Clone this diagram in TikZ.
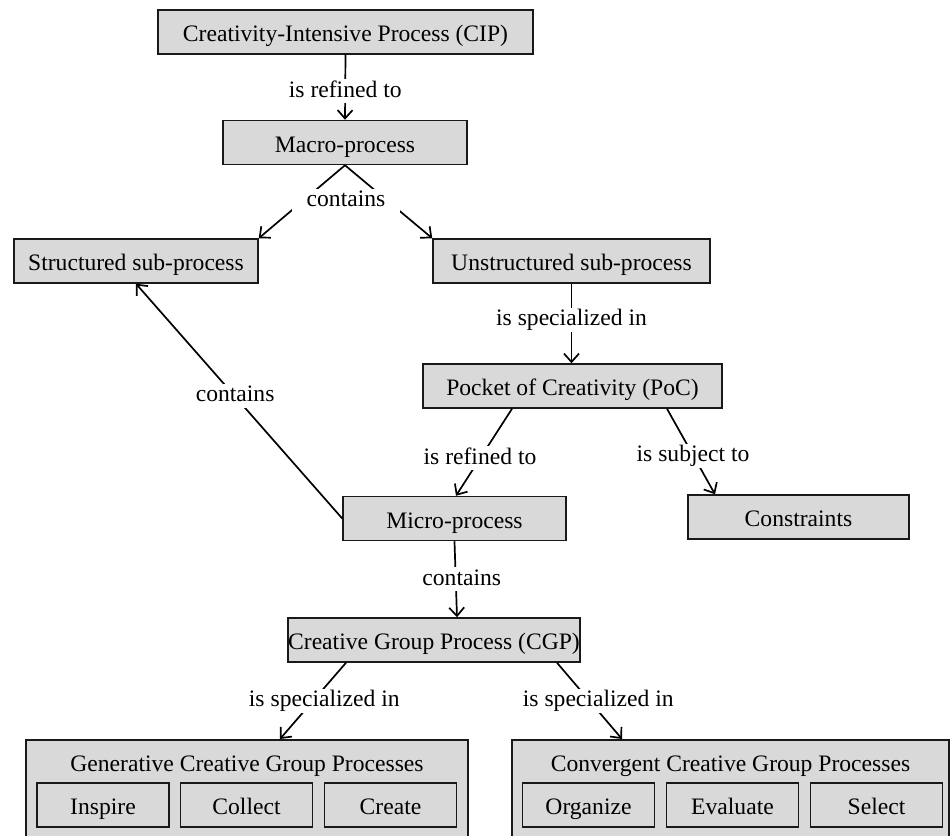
\documentclass[tikz,border=0pt]{standalone}
\usepackage{fontspec}
\setmainfont{Liberation Serif}
\usetikzlibrary{arrows.meta}
\begin{document}
\begin{tikzpicture}[x=0.5pt,y=-0.5pt,
  font=\fontsize{11.8}{14}\selectfont,
  boxtxt/.style={text height=10pt, text depth=0.5pt},
  box/.style={boxtxt, draw=black!90, fill=black!15, line width=0.75pt, inner sep=0pt,
    minimum height=22pt},
  sub/.style={box, minimum width=66pt},
  rel/.style={draw=black, line width=0.85pt,
    -{Straight Barb[length=4.2pt,width=7.5pt,line width=0.85pt]}},
  lbl/.style={text height=8.4pt, text depth=2.6pt, fill=white,
    inner xsep=2.5pt, inner ysep=0.5pt, text=black}]
\useasboundingbox (0,0) rectangle (950,836);

% upper part of the hierarchy
\node[box, minimum width=187.5pt] (cip) at (345.5,32) {Creativity-Intensive Process (CIP)};
\node[box, minimum width=122pt] (macro) at (345,142.5) {Macro-process};
\node[box, minimum width=122pt] (struct) at (136,261) {Structured sub-process};
\node[box, minimum width=138.5pt] (unstruct) at (571.5,261) {Unstructured sub-process};
\node[box, minimum width=149.5pt] (poc) at (572.5,386) {Pocket of Creativity (PoC)};
\node[box, minimum width=111.5pt] (micro) at (454.5,518.5) {Micro-process};
\node[box, minimum width=110.5pt] (constr) at (798.5,517) {Constraints};
\node[box, minimum width=143pt] (cgp) at (434,640) {Creative Group Process (CGP)};

% group-process families with their activities
\node[box, minimum width=221pt, minimum height=60pt, anchor=north] (gen) at (247,739) {};
\node[boxtxt] (gentitle) at (247,762) {Generative Creative Group Processes};
\node[sub] (inspire) at (103,805) {Inspire};
\node[sub] (collect) at (246.5,805) {Collect};
\node[sub] (create) at (390.5,805) {Create};

\node[box, minimum width=218.5pt, minimum height=60pt, anchor=north] (conv) at (730.5,739) {};
\node[boxtxt] (convtitle) at (730.5,762) {Convergent Creative Group Processes};
\node[sub] (organize) at (588.5,805) {Organize};
\node[sub] (evaluate) at (732.5,805) {Evaluate};
\node[sub] (select) at (876.5,805) {Select};

% relations
\draw[rel] (cip.south) -- node[lbl, yshift=-2pt] {is refined to} (macro.north);
\draw[rel] (macro.south) -- (struct.north east);
\draw[rel] (macro.south) -- (unstruct.north west);
\node[lbl, inner xsep=7.5pt] (containsA) at (346,201) {contains};
\draw[rel] (unstruct.south) -- node[lbl, yshift=2pt] {is specialized in} (unstruct.south |- poc.north);
\draw[rel] ([xshift=-30.25pt]poc.south) -- node[lbl, xshift=-2pt, yshift=-3pt] {is refined to} ([xshift=0.75pt]micro.north);
\draw[rel] ([xshift=47.25pt]poc.south) -- node[lbl, xshift=1pt, yshift=-2pt] {is subject to} ([xshift=-41.75pt]constr.north);
\draw[rel] (micro.west) -- node[lbl, xshift=-2pt, yshift=2.5pt] {contains} (struct.south);
\draw[rel] (micro.south) -- node[lbl, xshift=3pt] {contains} ([xshift=11.5pt]cgp.north);
\draw[rel] ([xshift=-44pt]cgp.south) -- node[lbl, pos=0.45, xshift=4pt, yshift=-2pt] {is specialized in} ([xshift=16.5pt]gen.north);
\draw[rel] ([xshift=61.5pt]cgp.south) -- node[lbl, pos=0.45, xshift=6pt, yshift=-2pt] {is specialized in} ([xshift=-54.25pt]conv.north);
\end{tikzpicture}
\end{document}
